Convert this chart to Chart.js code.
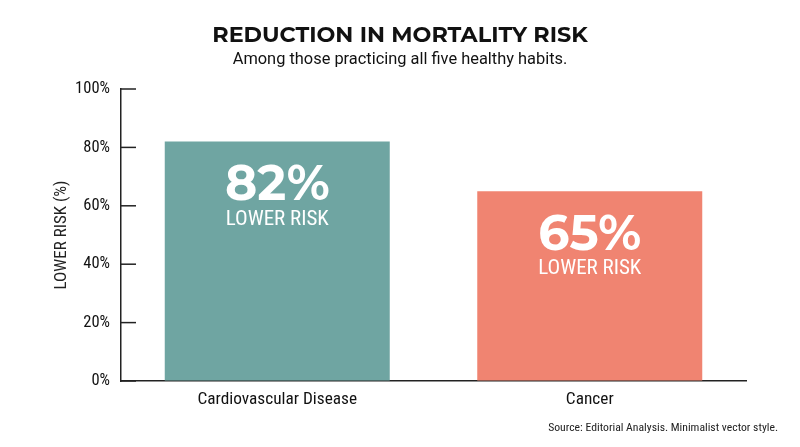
<!DOCTYPE html>
<html>
<head>
<meta charset="utf-8">
<script src="https://cdn.jsdelivr.net/npm/chart.js@4.4.0/dist/chart.umd.min.js"></script>
<style>
  html, body { margin: 0; padding: 0; background: #fff; }
  #chart { display: block; }
</style>
</head>
<body>
<canvas id="chart" width="800" height="447"></canvas>
<script>
// chart data
const categories = ['Cardiovascular Disease', 'Cancer'];
const riskReduction = [82, 65];
const barColors = ['#6fa5a2', '#f08471'];
const yTicks = [0, 20, 40, 60, 80, 100];

const titleText = 'REDUCTION IN MORTALITY RISK';
const subtitleText = 'Among those practicing all five healthy habits.';
const sourceText = 'Source: Editorial Analysis. Minimalist vector style.';

const condensed = '"Roboto Condensed", "Liberation Sans Narrow", "Arial Narrow", Roboto, sans-serif';
const heavy = 'Montserrat, "DejaVu Sans", sans-serif';

// titles, source and the axis title drawn by hand
const textPlugin = {
  id: 'texts',
  afterDraw(chart) {
    const ctx = chart.ctx;
    ctx.save();
    ctx.fillStyle = '#111';
    ctx.textAlign = 'center';
    ctx.textBaseline = 'middle';
    ctx.font = 'bold 22.3px ' + heavy;
    ctx.fillText(titleText, 400, 35);
    ctx.font = '16.4px Roboto, sans-serif';
    ctx.fillText(subtitleText, 400, 60);

    ctx.textAlign = 'right';
    ctx.font = '11.7px ' + condensed;
    ctx.fillStyle = '#222';
    ctx.fillText(sourceText, 778, 428);

    // rotated y axis title
    const area = chart.chartArea;
    ctx.translate(62, (area.top + area.bottom) / 2);
    ctx.rotate(-Math.PI / 2);
    ctx.textAlign = 'center';
    ctx.font = '17px ' + condensed;
    ctx.fillText('LOWER RISK (%)', 0, 0);
    ctx.restore();
  }
};

// short tick marks pointing into the plot
const innerTicks = {
  id: 'innerTicks',
  afterDraw(chart) {
    const ctx = chart.ctx;
    const y = chart.scales.y;
    const x0 = chart.chartArea.left;
    ctx.save();
    ctx.strokeStyle = '#222';
    ctx.lineWidth = 1.5;
    yTicks.forEach(v => {
      const py = y.getPixelForValue(v);
      ctx.beginPath();
      ctx.moveTo(x0, py);
      ctx.lineTo(x0 + 15, py);
      ctx.stroke();
    });
    ctx.restore();
  }
};

// big value labels inside the bars
const barLabels = {
  id: 'barLabels',
  afterDatasetsDraw(chart) {
    const ctx = chart.ctx;
    const meta = chart.getDatasetMeta(0);
    ctx.save();
    ctx.fillStyle = '#ffffff';
    ctx.textAlign = 'center';
    ctx.textBaseline = 'middle';
    meta.data.forEach((bar, i) => {
      ctx.font = 'bold 49px ' + heavy;
      ctx.fillText(riskReduction[i] + '%', bar.x, bar.y + 44);
      ctx.font = '21px ' + condensed;
      ctx.fillText('LOWER RISK', bar.x, bar.y + 78);
    });
    ctx.restore();
  }
};

const ctx = document.getElementById('chart').getContext('2d');
const myChart = new Chart(ctx, {
  type: 'bar',
  data: {
    labels: categories,
    datasets: [{
      data: riskReduction,
      backgroundColor: barColors,
      borderWidth: 0,
      categoryPercentage: 1,
      barPercentage: 0.72
    }]
  },
  options: {
    responsive: false,
    animation: false,
    layout: { padding: { top: 89, right: 54, left: 0, bottom: 0 } },
    plugins: {
      legend: { display: false },
      tooltip: { enabled: false }
    },
    scales: {
      x: {
        grid: { display: false, drawTicks: false },
        border: { display: true, color: '#222', width: 1.5 },
        ticks: {
          color: '#111',
          padding: 8,
          font: { family: condensed, size: 17.3 }
        },
        afterFit(scale) { scale.height = 66; }
      },
      y: {
        min: 0,
        max: 100,
        afterBuildTicks(scale) { scale.ticks = yTicks.map(v => ({ value: v })); },
        grid: { display: true, drawOnChartArea: false, drawTicks: false },
        border: { display: true, color: '#222', width: 1.5 },
        ticks: {
          color: '#111',
          padding: 11,
          font: { family: condensed, size: 16.5 },
          callback: v => v + '%'
        },
        afterFit(scale) { scale.width = 121; }
      }
    }
  },
  plugins: [textPlugin, innerTicks, barLabels]
});
</script>
</body>
</html>
